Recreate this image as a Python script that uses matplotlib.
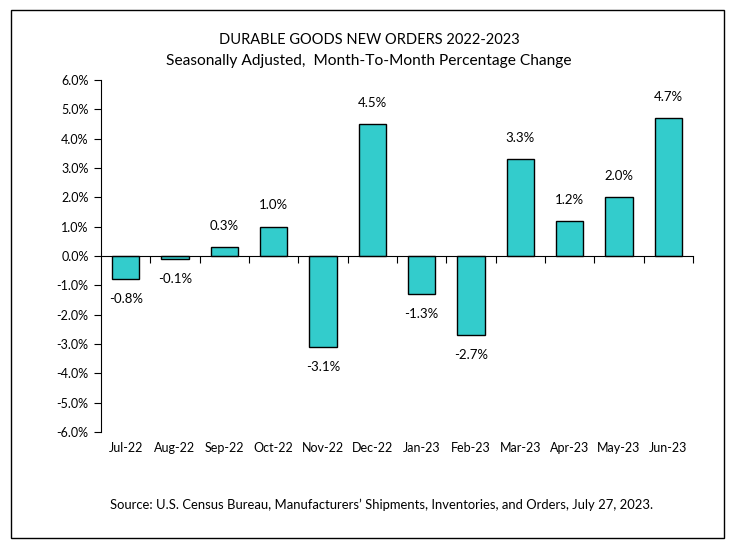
import matplotlib.pyplot as plt
from matplotlib.patches import Rectangle
from matplotlib.ticker import FuncFormatter, FixedLocator

# Daten
months = ["Jul-22", "Aug-22", "Sep-22", "Oct-22", "Nov-22", "Dec-22",
          "Jan-23", "Feb-23", "Mar-23", "Apr-23", "May-23", "Jun-23"]
changes = [-0.8, -0.1, 0.3, 1.0, -3.1, 4.5, -1.3, -2.7, 3.3, 1.2, 2.0, 4.7]

plt.rcParams["font.family"] = ["Lato", "DejaVu Sans"]

W, H = 734, 551
fig = plt.figure(figsize=(W / 100, H / 100), dpi=100)
fig.patch.set_facecolor("white")

# Rahmen um die ganze Grafik
fig.patches.append(Rectangle((11 / W, 1 - 538 / H), 713 / W, 528 / H,
                             transform=fig.transFigure, fill=False,
                             edgecolor="black", linewidth=1))

ax = fig.add_axes([101 / W, 1 - 432 / H, 592 / W, 352 / H])
x = list(range(len(months)))
ax.bar(x, changes, width=0.56, color="#33CCCC", edgecolor="black", linewidth=1.0)

ax.set_ylim(-6, 6)
ax.set_xlim(-0.5, len(months) - 0.5)
ax.set_yticks([i for i in range(-6, 7)])
ax.yaxis.set_major_formatter(FuncFormatter(lambda v, p: f"{v:.1f}%"))
ax.tick_params(axis="y", labelsize=9, length=5, width=0.8, pad=4)

# x-Achse auf der Nulllinie, Ticks zwischen den Kategorien
ax.spines["top"].set_visible(False)
ax.spines["right"].set_visible(False)
ax.spines["bottom"].set_position(("data", 0))
ax.spines["left"].set_linewidth(0.8)
ax.spines["bottom"].set_linewidth(0.8)
ax.xaxis.set_major_locator(FixedLocator([i + 0.5 for i in range(len(months))]))
ax.set_xticklabels([])
ax.tick_params(axis="x", length=5, width=0.8, direction="out")

for i, m in enumerate(months):
    ax.text(i, -6.35, m, ha="center", va="top", fontsize=9)

# Werte-Beschriftungen
for i, v in enumerate(changes):
    if v >= 0:
        ax.annotate(f"{v:.1f}%", (i, v), xytext=(0, 11), textcoords="offset points",
                    ha="center", va="bottom", fontsize=9.5)
    else:
        ax.annotate(f"{v:.1f}%", (i, v), xytext=(0, -10), textcoords="offset points",
                    ha="center", va="top", fontsize=9.5)

fig.text(369 / W, 1 - 40 / H, "DURABLE GOODS NEW ORDERS 2022-2023",
         ha="center", va="center", fontsize=10.5)
fig.text(369 / W, 1 - 61 / H, "Seasonally Adjusted,  Month-To-Month Percentage Change",
         ha="center", va="center", fontsize=11.2)
fig.text(382 / W, 1 - 505 / H,
         "Source: U.S. Census Bureau, Manufacturers\u2019 Shipments, Inventories, and Orders, July 27, 2023.",
         ha="center", va="center", fontsize=9.4)

fig.savefig("out.png", dpi=100)
